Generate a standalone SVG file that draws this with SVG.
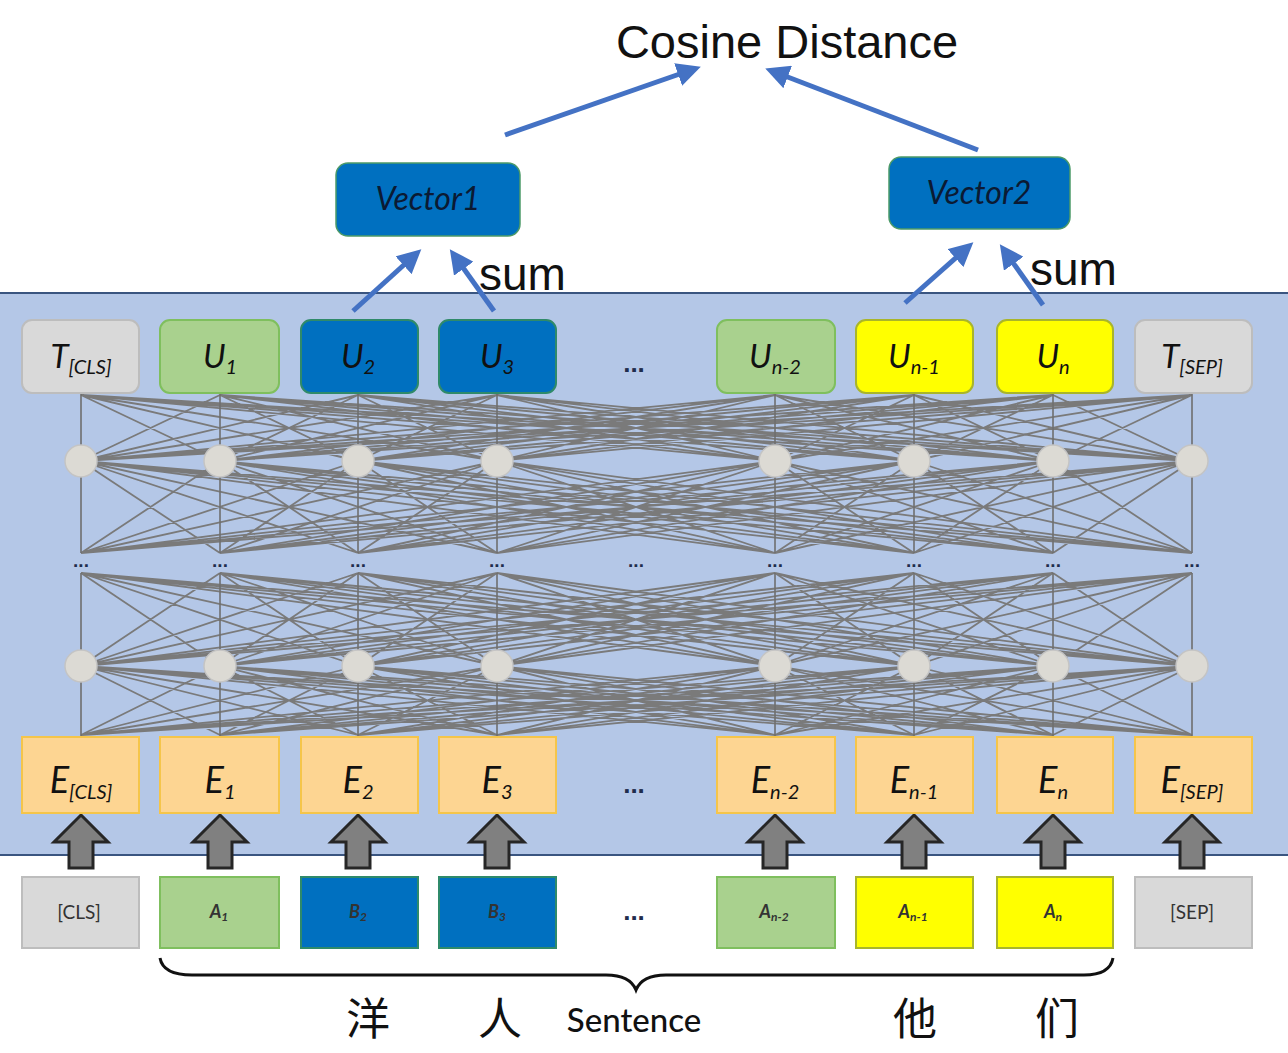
<svg xmlns="http://www.w3.org/2000/svg" xmlns:xlink="http://www.w3.org/1999/xlink" width="1288" height="1053" viewBox="0 0 1288 1053">
<style>
.box{stroke-width:2}
.gray{fill:#d9d9d9;stroke:#bdbdbd}
.green{fill:#a9d18e;stroke:#7fbf5e}
.blue{fill:#0070c0;stroke:#2f8a6a}
.yellow{fill:#ffff00;stroke:#a9b52a}
.emb{fill:#fdd592;stroke:#f5c54a}
.lbl{font-family:Lato,"Liberation Sans",sans-serif;font-style:italic;font-size:33px;fill:#111;text-anchor:middle}
.sub{font-size:20px}
.elbl{font-size:36px}
.tok{font-family:Lato,"Liberation Sans",sans-serif;font-size:19px;fill:#333;text-anchor:middle}
.tokA{font-style:italic;font-weight:bold;font-size:18px}
.dots{font-family:"Liberation Sans",sans-serif;font-weight:bold;fill:#1f2d4d;text-anchor:middle}
.net{fill:none;stroke:#7a7a7a;stroke-width:1.8;vector-effect:non-scaling-stroke}
.vline{stroke:#6f6f6f;stroke-width:1.6}
.node{fill:#dcdad4;stroke:#c4c4c4;stroke-width:1.5}
.bluearrow{stroke:#4472c4;stroke-width:5;fill:none}
.vec{fill:#0070c0;stroke:#4c9a68;stroke-width:1.5}
.vtxt{font-family:Lato,"Liberation Sans",sans-serif;font-style:italic;font-size:32px;fill:#0b1a33;text-anchor:middle}
.big{font-family:"Liberation Sans",Arial,sans-serif;fill:#111}
.cjk{font-family:"Noto Sans CJK SC",sans-serif;font-size:44px;fill:#111;text-anchor:middle}
</style>
<defs>
<marker id="ah" markerWidth="24" markerHeight="24" viewBox="0 0 10 10" refX="7" refY="5" orient="auto" markerUnits="userSpaceOnUse">
<path d="M0 0L10 5L0 10Z" fill="#4472c4"/>
</marker>
<path id="band" class="net" d="M81 0L220 100M81 0L358 100M81 0L497 100M81 0L775 100M81 0L914 100M81 0L1053 100M81 0L1192 100M220 0L81 100M220 0L358 100M220 0L497 100M220 0L775 100M220 0L914 100M220 0L1053 100M220 0L1192 100M358 0L81 100M358 0L220 100M358 0L497 100M358 0L775 100M358 0L914 100M358 0L1053 100M358 0L1192 100M497 0L81 100M497 0L220 100M497 0L358 100M497 0L775 100M497 0L914 100M497 0L1053 100M497 0L1192 100M775 0L81 100M775 0L220 100M775 0L358 100M775 0L497 100M775 0L914 100M775 0L1053 100M775 0L1192 100M914 0L81 100M914 0L220 100M914 0L358 100M914 0L497 100M914 0L775 100M914 0L1053 100M914 0L1192 100M1053 0L81 100M1053 0L220 100M1053 0L358 100M1053 0L497 100M1053 0L775 100M1053 0L914 100M1053 0L1192 100M1192 0L81 100M1192 0L220 100M1192 0L358 100M1192 0L497 100M1192 0L775 100M1192 0L914 100M1192 0L1053 100"/>
<path id="blk" d="M0 0L27 27L12 27L12 53L-12 53L-12 27L-27 27Z" fill="#808080" stroke="#262626" stroke-width="3" stroke-linejoin="miter"/>
</defs>

<rect x="-2" y="293" width="1292" height="562" fill="#b4c7e7" stroke="#3a5580" stroke-width="2"/>

<g id="network">
<use xlink:href="#band" transform="translate(0,395) scale(1,0.66)"/>
<use xlink:href="#band" transform="translate(0,461) scale(1,0.92)"/>
<use xlink:href="#band" transform="translate(0,573) scale(1,0.93)"/>
<use xlink:href="#band" transform="translate(0,666) scale(1,0.69)"/>
<g class="vline">
<path d="M81 393V553M81 573V737M220 393V553M220 573V737M358 393V553M358 573V737M497 393V553M497 573V737M775 393V553M775 573V737M914 393V553M914 573V737M1053 393V553M1053 573V737M1192 393V553M1192 573V737"/>
</g>
<g>
<circle class="node" cx="81" cy="461" r="16"/><circle class="node" cx="220" cy="461" r="16"/><circle class="node" cx="358" cy="461" r="16"/><circle class="node" cx="497" cy="461" r="16"/><circle class="node" cx="775" cy="461" r="16"/><circle class="node" cx="914" cy="461" r="16"/><circle class="node" cx="1053" cy="461" r="16"/><circle class="node" cx="1192" cy="461" r="16"/>
<circle class="node" cx="81" cy="666" r="16"/><circle class="node" cx="220" cy="666" r="16"/><circle class="node" cx="358" cy="666" r="16"/><circle class="node" cx="497" cy="666" r="16"/><circle class="node" cx="775" cy="666" r="16"/><circle class="node" cx="914" cy="666" r="16"/><circle class="node" cx="1053" cy="666" r="16"/><circle class="node" cx="1192" cy="666" r="16"/>
</g>
<g class="dots" font-size="19">
<text x="81" y="567">...</text><text x="220" y="567">...</text><text x="358" y="567">...</text><text x="497" y="567">...</text><text x="636" y="567">...</text><text x="775" y="567">...</text><text x="914" y="567">...</text><text x="1053" y="567">...</text><text x="1192" y="567">...</text>
</g>
</g>

<g id="connectors">
<use xlink:href="#blk" x="81" y="815"/>
<use xlink:href="#blk" x="220" y="815"/>
<use xlink:href="#blk" x="358" y="815"/>
<use xlink:href="#blk" x="497" y="815"/>
<use xlink:href="#blk" x="775" y="815"/>
<use xlink:href="#blk" x="914" y="815"/>
<use xlink:href="#blk" x="1053" y="815"/>
<use xlink:href="#blk" x="1192" y="815"/>
<line class="bluearrow" x1="353" y1="311" x2="416" y2="254" marker-end="url(#ah)"/>
<line class="bluearrow" x1="494" y1="311" x2="454" y2="255" marker-end="url(#ah)"/>
<line class="bluearrow" x1="905" y1="303" x2="968" y2="247" marker-end="url(#ah)"/>
<line class="bluearrow" x1="1043" y1="305" x2="1004" y2="250" marker-end="url(#ah)"/>
<line class="bluearrow" x1="505" y1="135" x2="694" y2="69" marker-end="url(#ah)"/>
<line class="bluearrow" x1="978" y1="150" x2="772" y2="71" marker-end="url(#ah)"/>
</g>

<text class="big" x="787" y="58" font-size="47" text-anchor="middle">Cosine Distance</text>
<text class="big" x="479" y="290" font-size="46">sum</text>
<text class="big" x="1030" y="285" font-size="46">sum</text>

<g id="vector1"><rect class="vec" x="336" y="163" width="184" height="73" rx="12"/><text class="vtxt" x="428" y="210">Vector1</text></g>
<g id="vector2"><rect class="vec" x="889" y="157" width="181" height="72" rx="12"/><text class="vtxt" x="979" y="204">Vector2</text></g>

<g id="T_CLS"><rect class="box gray" x="22" y="320" width="117" height="73" rx="10"/><text class="lbl" x="81" y="368">T<tspan class="sub" dy="6">[CLS]</tspan></text></g>
<g id="U1"><rect class="box green" x="160" y="320" width="119" height="73" rx="10"/><text class="lbl" x="220" y="368">U<tspan class="sub" dy="6">1</tspan></text></g>
<g id="U2"><rect class="box blue" x="301" y="320" width="117" height="73" rx="10"/><text class="lbl" x="358" y="368">U<tspan class="sub" dy="6">2</tspan></text></g>
<g id="U3"><rect class="box blue" x="439" y="320" width="117" height="73" rx="10"/><text class="lbl" x="497" y="368">U<tspan class="sub" dy="6">3</tspan></text></g>
<text class="dots" x="634" y="372" font-size="26">...</text>
<g id="Un-2"><rect class="box green" x="717" y="320" width="118" height="73" rx="10"/><text class="lbl" x="775" y="368">U<tspan class="sub" dy="6">n-2</tspan></text></g>
<g id="Un-1"><rect class="box yellow" x="856" y="320" width="117" height="73" rx="10"/><text class="lbl" x="914" y="368">U<tspan class="sub" dy="6">n-1</tspan></text></g>
<g id="Un"><rect class="box yellow" x="997" y="320" width="116" height="73" rx="10"/><text class="lbl" x="1053" y="368">U<tspan class="sub" dy="6">n</tspan></text></g>
<g id="T_SEP"><rect class="box gray" x="1135" y="320" width="117" height="73" rx="10"/><text class="lbl" x="1192" y="368">T<tspan class="sub" dy="6">[SEP]</tspan></text></g>

<g id="E_CLS"><rect class="box emb" x="22" y="737" width="117" height="76"/><text class="lbl elbl" x="81" y="793">E<tspan class="sub" dy="6">[CLS]</tspan></text></g>
<g id="E1"><rect class="box emb" x="160" y="737" width="119" height="76"/><text class="lbl elbl" x="220" y="793">E<tspan class="sub" dy="6">1</tspan></text></g>
<g id="E2"><rect class="box emb" x="301" y="737" width="117" height="76"/><text class="lbl elbl" x="358" y="793">E<tspan class="sub" dy="6">2</tspan></text></g>
<g id="E3"><rect class="box emb" x="439" y="737" width="117" height="76"/><text class="lbl elbl" x="497" y="793">E<tspan class="sub" dy="6">3</tspan></text></g>
<text class="dots" x="634" y="793" font-size="26">...</text>
<g id="En-2"><rect class="box emb" x="717" y="737" width="118" height="76"/><text class="lbl elbl" x="775" y="793">E<tspan class="sub" dy="6">n-2</tspan></text></g>
<g id="En-1"><rect class="box emb" x="856" y="737" width="117" height="76"/><text class="lbl elbl" x="914" y="793">E<tspan class="sub" dy="6">n-1</tspan></text></g>
<g id="En"><rect class="box emb" x="997" y="737" width="116" height="76"/><text class="lbl elbl" x="1053" y="793">E<tspan class="sub" dy="6">n</tspan></text></g>
<g id="E_SEP"><rect class="box emb" x="1135" y="737" width="117" height="76"/><text class="lbl elbl" x="1192" y="793">E<tspan class="sub" dy="6">[SEP]</tspan></text></g>

<g id="tok_CLS"><rect class="box gray" x="22" y="877" width="117" height="71"/><text class="tok" x="79" y="919">[CLS]</text></g>
<g id="tok_A1"><rect class="box green" x="160" y="877" width="119" height="71"/><text class="tok tokA" x="219" y="918" fill="#1e3a12">A<tspan font-size="12" dy="3">1</tspan></text></g>
<g id="tok_B2"><rect class="box blue" x="301" y="877" width="117" height="71"/><text class="tok tokA" x="358" y="918" fill="#0d2a55">B<tspan font-size="12" dy="3">2</tspan></text></g>
<g id="tok_B3"><rect class="box blue" x="439" y="877" width="117" height="71"/><text class="tok tokA" x="497" y="918" fill="#0d2a55">B<tspan font-size="12" dy="3">3</tspan></text></g>
<text class="dots" x="634" y="920" font-size="26">...</text>
<g id="tok_An-2"><rect class="box green" x="717" y="877" width="118" height="71"/><text class="tok tokA" x="774" y="918" fill="#1e3a12">A<tspan font-size="12" dy="3">n-2</tspan></text></g>
<g id="tok_An-1"><rect class="box yellow" x="856" y="877" width="117" height="71"/><text class="tok tokA" x="913" y="918" fill="#3a3a10">A<tspan font-size="12" dy="3">n-1</tspan></text></g>
<g id="tok_An"><rect class="box yellow" x="997" y="877" width="116" height="71"/><text class="tok tokA" x="1053" y="918" fill="#3a3a10">A<tspan font-size="12" dy="3">n</tspan></text></g>
<g id="tok_SEP"><rect class="box gray" x="1135" y="877" width="117" height="71"/><text class="tok" x="1192" y="919">[SEP]</text></g>

<path d="M160 958Q163 975 192 975L606 975Q630 975 636 990Q642 975 666 975L1084 975Q1110 975 1113 958" fill="none" stroke="#111" stroke-width="3"/>
<text class="cjk" x="368" y="1035">洋</text>
<text class="cjk" x="500" y="1035">人</text>
<text x="634" y="1032" font-family="Lato,'Liberation Sans',sans-serif" font-size="33" font-weight="500" fill="#111" text-anchor="middle">Sentence</text>
<text class="cjk" x="915" y="1035">他</text>
<text class="cjk" x="1057" y="1035">们</text>
</svg>
